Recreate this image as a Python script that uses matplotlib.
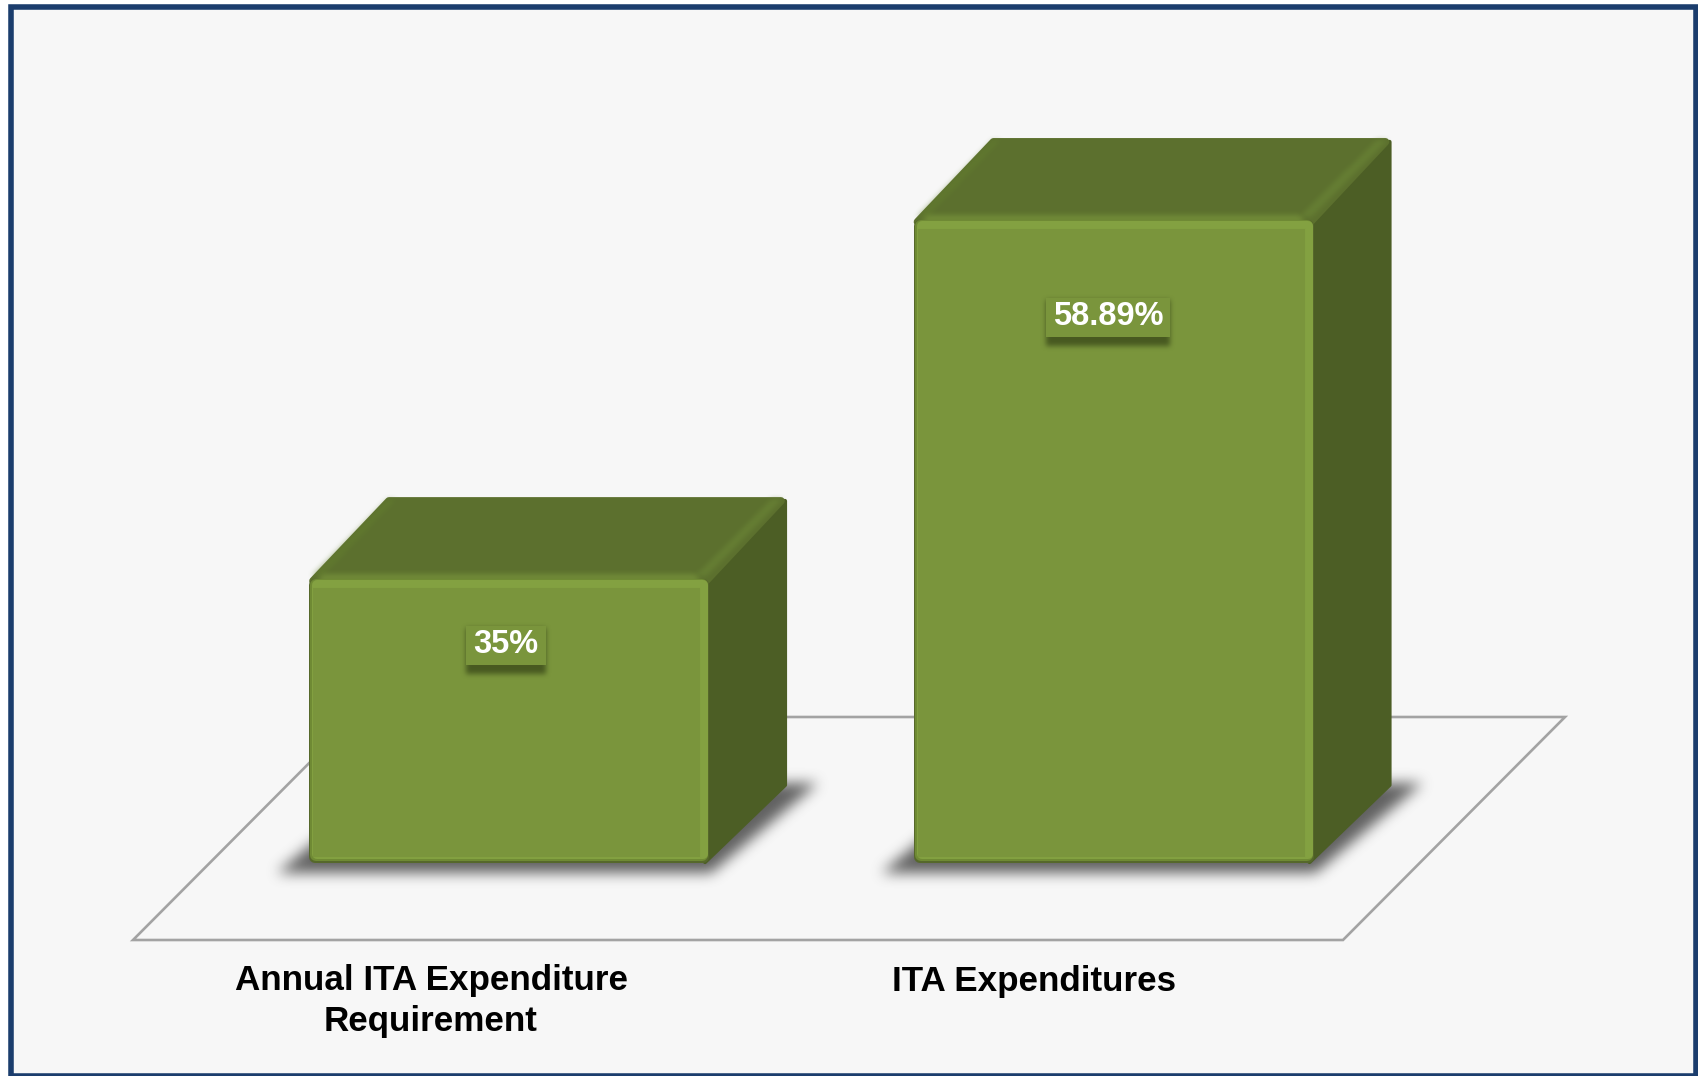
import numpy as np
import matplotlib
matplotlib.use('Agg')
import matplotlib.pyplot as plt
from matplotlib.patches import Polygon, Rectangle
from matplotlib.path import Path
from matplotlib.colors import to_rgb

# Chart values (the value axis of the original starts above zero)
categories = ['Annual ITA Expenditure\nRequirement', 'ITA Expenditures']
values = [35, 58.89]
value_labels = ['35%', '58.89%']

# Layout in pixels of the 1698x1076 picture
W, H = 1698, 1076
BASE_Y = 863       # pixel row of the bars' bottom
FIRST_X = 509      # pixel column of first bar centre
STEP_X = 604.5     # pixels between bar centres
BAR_W = 400 / STEP_X
BASE_VALUE = 16.1  # value sitting on the floor
PX_PER_VALUE = 15.03
DEPTH_X, DEPTH_Y = 77, 83

FRONT = '#7a953c'
TOP = '#5c702e'
SIDE = '#4c5e25'
LIGHT = '#83a141'
BG = '#f7f7f7'
NAVY = '#1b3d6d'
FLOOR = '#a3a3a3'


def to_x(px):
    return (px - FIRST_X) / STEP_X


def to_y(py):
    return BASE_VALUE + (BASE_Y - py) / PX_PER_VALUE


def px(points):
    return [(to_x(a), to_y(b)) for a, b in points]


def blurred(ax, points, color, alpha, radius, zorder):
    """Soft shadow: a polygon rasterised, box-blurred three times, shown as an image."""
    points = np.array(points, dtype=float)
    pad = radius * 4
    x0, y0 = np.floor(points.min(axis=0) - pad).astype(int)
    x1, y1 = np.ceil(points.max(axis=0) + pad).astype(int)
    xx, yy = np.meshgrid(np.arange(x0, x1) + 0.5, np.arange(y0, y1) + 0.5)
    inside = Path(points).contains_points(np.c_[xx.ravel(), yy.ravel()])
    mask = inside.reshape(xx.shape).astype(float)
    kernel = np.ones(2 * radius + 1) / (2 * radius + 1)
    for _ in range(3):
        mask = np.apply_along_axis(np.convolve, 0, mask, kernel, mode='same')
        mask = np.apply_along_axis(np.convolve, 1, mask, kernel, mode='same')
    rgba = np.zeros(mask.shape + (4,))
    rgba[..., :3] = to_rgb(color)
    rgba[..., 3] = mask * alpha
    ax.imshow(rgba, extent=(to_x(x0), to_x(x1), to_y(y1), to_y(y0)),
              aspect='auto', zorder=zorder, interpolation='bilinear')


def rounded(ax, points, color, zorder, inset=3.5):
    # a stroked polygon gives the soft rounded corners of the bars
    pts = np.array(points, dtype=float)
    centre = pts.mean(axis=0)
    step = np.sign(centre - pts) * inset
    ax.add_patch(Polygon(px(pts + step), closed=True, facecolor=color, edgecolor=color,
                         lw=inset * 2 * 0.72, joinstyle='round', zorder=zorder))


fig = plt.figure(figsize=(W / 100, H / 100), dpi=100, facecolor='white')
ax = fig.add_axes([0, 0, 1, 1])
ax.set_axis_off()
ax.set_autoscale_on(False)
ax.set_xlim(to_x(0), to_x(W))
ax.set_ylim(to_y(H), to_y(0))

plt.rcParams['font.family'] = ['Liberation Sans', 'DejaVu Sans']

# Panel background and navy frame
ax.add_patch(Rectangle((to_x(10.5), to_y(1075.5)), to_x(1695.5) - to_x(10.5),
                       to_y(6.5) - to_y(1075.5), facecolor=BG, edgecolor=NAVY,
                       lw=4.0, zorder=0))

# Floor
ax.add_patch(Polygon(px([(133, 940), (1343, 940), (1565, 717), (355, 717)]), closed=True,
                     fill=False, edgecolor=FLOOR, lw=1.9, joinstyle='miter', zorder=1))

for i, (value, text) in enumerate(zip(values, value_labels)):
    left = i - BAR_W / 2
    right = i + BAR_W / 2
    # bar corners come from the value through the axis scale
    xl = FIRST_X + left * STEP_X
    xr = FIRST_X + right * STEP_X
    yt = BASE_Y - (value - BASE_VALUE) * PX_PER_VALUE
    yb = BASE_Y

    # ground shadow
    blurred(ax, [(xl - 32, yb + 10), (xr + 2, yb + 10), (xr + DEPTH_X + 32, yb - DEPTH_Y + 3),
                 (xl + DEPTH_X, yb - DEPTH_Y + 3)], '#505050', 0.9, 6, 2)

    # side and top faces
    ax.add_patch(Polygon(px([(xr - 4, yt + 5), (xr + DEPTH_X - 1, yt - DEPTH_Y + 5), (xr + DEPTH_X - 1, yb - DEPTH_Y + 5),
                             (xr - 4, yb - 1)]), closed=True, facecolor=SIDE, edgecolor=SIDE,
                         lw=3.0, joinstyle='round', zorder=3))
    ax.add_patch(Polygon(px([(xl + 4, yt + 2), (xl + DEPTH_X + 3, yt - DEPTH_Y + 5),
                             (xr + DEPTH_X - 5, yt - DEPTH_Y + 5), (xr - 3, yt + 2)]), closed=True,
                         facecolor=TOP, edgecolor=TOP, lw=5.5, joinstyle='round', zorder=4))

    # lighter bevels along the top face edges
    blurred(ax, [(xr - 14, yt - 3), (xr + DEPTH_X - 14, yt - DEPTH_Y + 4), (xr + DEPTH_X - 3, yt - DEPTH_Y + 4),
                 (xr - 2, yt - 3)], '#6a8436', 0.7, 2, 5)
    blurred(ax, [(xl + 3, yt - 3), (xl + DEPTH_X + 2, yt - DEPTH_Y + 4), (xl + DEPTH_X + 10, yt - DEPTH_Y + 4),
                 (xl + 14, yt - 3)], '#648030', 0.5, 2, 5)
    blurred(ax, [(xl + 8, yt + 3), (xr - 8, yt + 3), (xr - 14, yt - 5), (xl + 14, yt - 5)], LIGHT, 0.55, 2, 5)

    # front face with bevel
    rounded(ax, [(xl, yt), (xr, yt), (xr, yb), (xl, yb)], '#56682b', 6, inset=6)
    rounded(ax, [(xl + 1, yt), (xr - 1, yt), (xr - 1, yb - 2), (xl + 1, yb - 2)], '#6f8a34', 6.1, inset=6)
    rounded(ax, [(xl + 3, yt + 1), (xr - 1, yt + 1), (xr - 1, yb - 4), (xl + 3, yb - 4)], LIGHT, 6.2, inset=5)
    ax.add_patch(Rectangle((to_x(xl + 5), to_y(yb - 7)), to_x(xr - 10) - to_x(xl + 5),
                           to_y(yt + 10) - to_y(yb - 7), facecolor=FRONT, edgecolor=FRONT,
                           lw=1.5, zorder=6.3))

    # value label on a small raised box
    cx = FIRST_X + i * STEP_X + (-3 if i == 0 else -5.5)
    cy = yt + (66 if i == 0 else 97)
    half_w = 40 if i == 0 else 62
    blurred(ax, [(cx - half_w, cy - 17), (cx + half_w, cy - 17), (cx + half_w, cy + 29),
                 (cx - half_w, cy + 29)], '#3f4f1c', 0.85, 2, 7)
    ax.add_patch(Rectangle((to_x(cx - half_w), to_y(cy + 20)), to_x(cx + half_w) - to_x(cx - half_w),
                           to_y(cy - 19) - to_y(cy + 20), facecolor=FRONT, edgecolor='none', zorder=8))
    ax.text(to_x(cx), to_y(cy), text, color='white', fontsize=23.5, fontweight='bold',
            ha='center', va='center', zorder=9)

# Category labels sit left of their bars, as in the original
ax.text(to_x(431), to_y(1001), categories[0], color='black', fontsize=25.2, fontweight='bold',
        ha='center', va='center', linespacing=1.3, zorder=9)
ax.text(to_x(1034), to_y(981), categories[1], color='black', fontsize=25.2, fontweight='bold',
        ha='center', va='center', zorder=9)

fig.savefig('out.png', dpi=100, facecolor='white')
